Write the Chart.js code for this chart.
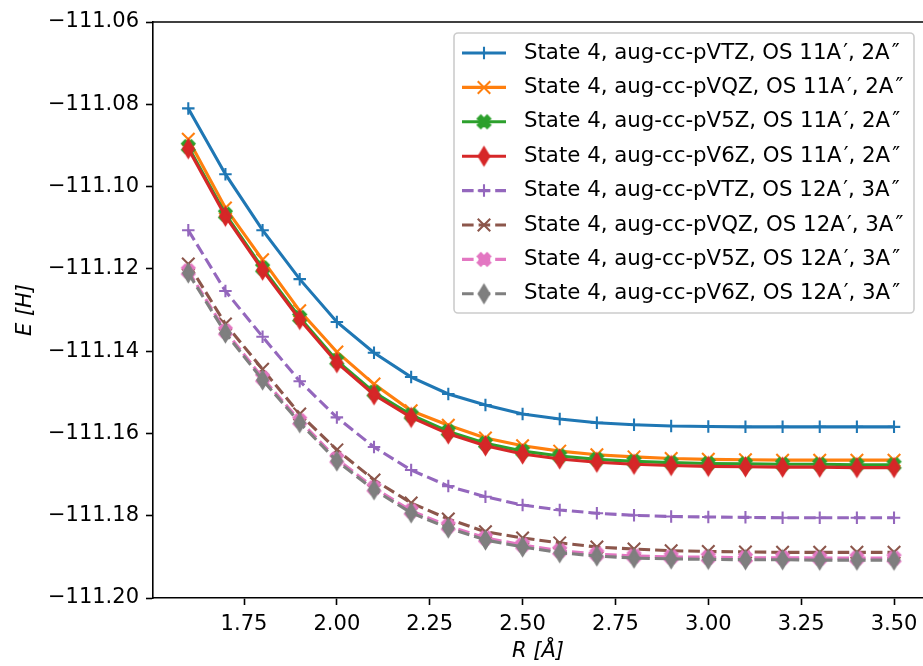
<!DOCTYPE html>
<html>
<head>
<meta charset="utf-8">
<script src="https://cdn.jsdelivr.net/npm/chart.js@4/dist/chart.umd.min.js"></script>
<style>
  html, body { margin: 0; padding: 0; background: #fff; }
  canvas { display: block; }
</style>
</head>
<body>
<canvas id="chart" width="923" height="666"></canvas>
<script>
'use strict'

/* global Chart */

const rValues = [1.6, 1.7, 1.8, 1.9, 2.0, 2.1, 2.2, 2.3, 2.4, 2.5, 2.6, 2.7, 2.8, 2.9, 3.0, 3.1, 3.2, 3.3, 3.4, 3.5]

const vtz11 = [-111.0810, -111.0970, -111.1106, -111.1225, -111.1329, -111.1404, -111.1463, -111.1504, -111.1531, -111.1553,
  -111.1565, -111.1574, -111.1579, -111.1582, -111.1583, -111.1584, -111.1584, -111.1584, -111.1584, -111.1584]
const vqz11 = [-111.0885, -111.1052, -111.1178, -111.1302, -111.1402, -111.1480, -111.1545, -111.1580, -111.1611, -111.1630,
  -111.1643, -111.1652, -111.1657, -111.1661, -111.1663, -111.1664, -111.1665, -111.1665, -111.1665, -111.1665]
const v5z11 = [-111.0903, -111.1067, -111.1198, -111.1318, -111.1423, -111.1500, -111.1555, -111.1595, -111.1624, -111.1643,
  -111.1655, -111.1663, -111.1668, -111.1671, -111.1673, -111.1674, -111.1675, -111.1675, -111.1676, -111.1676]
const v6z11 = [-111.0908, -111.1072, -111.1203, -111.1323, -111.1428, -111.1506, -111.1561, -111.1601, -111.1630, -111.1650,
  -111.1662, -111.1670, -111.1675, -111.1678, -111.1680, -111.1681, -111.1682, -111.1682, -111.1683, -111.1683]
const vtz12 = [-111.1106, -111.1254, -111.1365, -111.1473, -111.1561, -111.1633, -111.1689, -111.1728, -111.1754, -111.1774,
  -111.1786, -111.1794, -111.1799, -111.1802, -111.1803, -111.1804, -111.1805, -111.1805, -111.1805, -111.1805]
const vqz12 = [-111.1188, -111.1334, -111.1444, -111.1553, -111.1640, -111.1713, -111.1769, -111.1808, -111.1839, -111.1854,
  -111.1866, -111.1876, -111.1881, -111.1885, -111.1887, -111.1888, -111.1889, -111.1889, -111.1889, -111.1889]
const v5z12 = [-111.1205, -111.1351, -111.1465, -111.1569, -111.1662, -111.1732, -111.1788, -111.1825, -111.1854, -111.1871,
  -111.1885, -111.1893, -111.1898, -111.1900, -111.1901, -111.1902, -111.1902, -111.1903, -111.1903, -111.1903]
const v6z12 = [-111.1210, -111.1356, -111.1470, -111.1574, -111.1667, -111.1737, -111.1793, -111.1830, -111.1859, -111.1876,
  -111.1890, -111.1898, -111.1903, -111.1905, -111.1906, -111.1907, -111.1907, -111.1908, -111.1908, -111.1908]

const seriesLabels = [
  'State 4, aug-cc-pVTZ, OS 11A\u200a\u2032, 2A\u200a\u2033',
  'State 4, aug-cc-pVQZ, OS 11A\u200a\u2032, 2A\u200a\u2033',
  'State 4, aug-cc-pV5Z, OS 11A\u200a\u2032, 2A\u200a\u2033',
  'State 4, aug-cc-pV6Z, OS 11A\u200a\u2032, 2A\u200a\u2033',
  'State 4, aug-cc-pVTZ, OS 12A\u200a\u2032, 3A\u200a\u2033',
  'State 4, aug-cc-pVQZ, OS 12A\u200a\u2032, 3A\u200a\u2033',
  'State 4, aug-cc-pV5Z, OS 12A\u200a\u2032, 3A\u200a\u2033',
  'State 4, aug-cc-pV6Z, OS 12A\u200a\u2032, 3A\u200a\u2033'
]

const xTicks = [1.75, 2.00, 2.25, 2.50, 2.75, 3.00, 3.25, 3.50]
const yTicks = [-111.20, -111.18, -111.16, -111.14, -111.12, -111.10, -111.08, -111.06]

const FONT = 'DejaVu Sans'
const MS = 12.5
const EDGE = 2.08

function filledX (color) {
  const size = Math.ceil(MS + EDGE + 2)
  const c = document.createElement('canvas')
  c.width = size
  c.height = size
  const ctx = c.getContext('2d')
  const pts = [[-1, -2], [0, -1], [1, -2], [2, -1], [1, 0], [2, 1], [1, 2], [0, 1], [-1, 2], [-2, 1], [-1, 0], [-2, -1]]
  ctx.translate(size / 2, size / 2)
  ctx.beginPath()
  pts.forEach((p, i) => {
    const x = p[0] / 4 * MS
    const y = p[1] / 4 * MS
    if (i === 0) ctx.moveTo(x, y)
    else ctx.lineTo(x, y)
  })
  ctx.closePath()
  ctx.fillStyle = color
  ctx.strokeStyle = color
  ctx.lineWidth = EDGE
  ctx.fill()
  ctx.stroke()
  return c
}

function thinDiamond (color) {
  const h = MS * Math.SQRT2
  const w = h * 0.6
  const cw = Math.ceil(w + EDGE + 4)
  const ch = Math.ceil(h + EDGE + 4)
  const c = document.createElement('canvas')
  c.width = cw
  c.height = ch
  const ctx = c.getContext('2d')
  ctx.translate(cw / 2, ch / 2)
  ctx.beginPath()
  ctx.moveTo(0, -h / 2)
  ctx.lineTo(w / 2, 0)
  ctx.lineTo(0, h / 2)
  ctx.lineTo(-w / 2, 0)
  ctx.closePath()
  ctx.fillStyle = color
  ctx.strokeStyle = color
  ctx.lineWidth = EDGE
  ctx.fill()
  ctx.stroke()
  return c
}

const colors = ['#1f77b4', '#ff7f0e', '#2ca02c', '#d62728', '#9467bd', '#8c564b', '#e377c2', '#7f7f7f']
const values = [vtz11, vqz11, v5z11, v6z11, vtz12, vqz12, v5z12, v6z12]
const markers = [
  { style: 'cross', radius: MS / 2 },
  { style: 'crossRot', radius: MS / 2 * Math.SQRT2 },
  { style: filledX(colors[2]), radius: 6 },
  { style: thinDiamond(colors[3]), radius: 6 },
  { style: 'cross', radius: MS / 2 },
  { style: 'crossRot', radius: MS / 2 * Math.SQRT2 },
  { style: filledX(colors[6]), radius: 6 },
  { style: thinDiamond(colors[7]), radius: 6 }
]
const dashed = [11.6, 5]

const datasets = values.map((vals, i) => ({
  label: seriesLabels[i],
  data: rValues.map((r, j) => ({ x: r, y: vals[j] })),
  borderColor: colors[i],
  backgroundColor: colors[i],
  borderWidth: 3.1,
  borderDash: i >= 4 ? dashed : [],
  pointStyle: markers[i].style,
  pointRadius: markers[i].radius,
  pointBorderWidth: EDGE,
  pointBorderColor: colors[i],
  pointBackgroundColor: colors[i],
  tension: 0,
  fill: false,
  order: 7 - i
}))

function drawMarker (ctx, m, color, x, y) {
  ctx.save()
  if (typeof m.style === 'string') {
    ctx.strokeStyle = color
    ctx.lineWidth = EDGE
    ctx.setLineDash([])
    ctx.beginPath()
    if (m.style === 'cross') {
      ctx.moveTo(x - m.radius, y)
      ctx.lineTo(x + m.radius, y)
      ctx.moveTo(x, y - m.radius)
      ctx.lineTo(x, y + m.radius)
    } else {
      const d = m.radius / Math.SQRT2
      ctx.moveTo(x - d, y - d)
      ctx.lineTo(x + d, y + d)
      ctx.moveTo(x - d, y + d)
      ctx.lineTo(x + d, y - d)
    }
    ctx.stroke()
  } else {
    ctx.drawImage(m.style, x - m.style.width / 2, y - m.style.height / 2)
  }
  ctx.restore()
}

const framePlugin = {
  id: 'frame',
  afterDatasetsDraw (chart) {
    const ctx = chart.ctx
    const area = chart.chartArea
    ctx.save()
    ctx.strokeStyle = '#000'
    ctx.lineWidth = 1.6
    ctx.beginPath()
    ctx.moveTo(area.left, area.top)
    ctx.lineTo(area.right, area.top)
    ctx.stroke()

    // legend box, upper right
    ctx.beginPath()
    ctx.roundRect(454, 33, 460, 280, 4)
    ctx.fillStyle = 'rgba(255,255,255,0.8)'
    ctx.fill()
    ctx.strokeStyle = '#cccccc'
    ctx.lineWidth = 1.6
    ctx.stroke()

    ctx.font = '21.3px "' + FONT + '"'
    ctx.textBaseline = 'middle'
    ctx.textAlign = 'left'
    datasets.forEach((ds, i) => {
      const y = 53 + i * 34.4
      ctx.save()
      ctx.strokeStyle = ds.borderColor
      ctx.lineWidth = 3.1
      ctx.setLineDash(ds.borderDash)
      ctx.beginPath()
      ctx.moveTo(462, y)
      ctx.lineTo(506, y)
      ctx.stroke()
      ctx.restore()
      drawMarker(ctx, markers[i], ds.borderColor, 484, y)
      ctx.fillStyle = '#000'
      ctx.fillText(ds.label, 524, y)
    })
    ctx.restore()
  }
}

Chart.defaults.font.family = FONT
Chart.defaults.color = '#000'

const chart = new Chart(document.getElementById('chart'), {
  type: 'line',
  data: { datasets },
  plugins: [framePlugin],
  options: {
    responsive: false,
    animation: false,
    devicePixelRatio: 1,
    layout: { autoPadding: false, padding: { top: 22, right: 0, bottom: 0, left: 0 } },
    plugins: {
      legend: { display: false },
      tooltip: { enabled: false }
    },
    scales: {
      x: {
        type: 'linear',
        min: 1.505,
        max: 3.578,
        afterBuildTicks: (scale) => { scale.ticks = xTicks.map(v => ({ value: v })) },
        afterFit: (scale) => {
          scale.height = 68
          scale.paddingLeft = 0
          scale.paddingRight = 0
        },
        ticks: {
          callback: (v) => v.toFixed(2),
          font: { size: 21 },
          color: '#000',
          padding: 7,
          maxRotation: 0,
          autoSkip: false
        },
        grid: { drawOnChartArea: false, drawTicks: true, tickLength: 7, tickColor: '#000', tickWidth: 1.6 },
        border: { display: true, color: '#000', width: 1.6 },
        title: {
          display: true,
          text: 'R [\u00c5]',
          color: '#000',
          font: { size: 21, style: 'italic' },
          padding: { top: 0, bottom: 2 }
        }
      },
      y: {
        type: 'linear',
        min: -111.20,
        max: -111.06,
        afterBuildTicks: (scale) => { scale.ticks = yTicks.map(v => ({ value: v })) },
        afterFit: (scale) => { scale.width = 153 },
        ticks: {
          callback: (v) => '\u2212' + Math.abs(v).toFixed(2),
          font: { size: 21 },
          color: '#000',
          padding: 7,
          autoSkip: false
        },
        grid: { drawOnChartArea: false, drawTicks: true, tickLength: 7, tickColor: '#000', tickWidth: 1.6 },
        border: { display: true, color: '#000', width: 1.6 },
        title: {
          display: true,
          text: 'E [H]',
          color: '#000',
          font: { size: 21, style: 'italic' },
          padding: { top: 13, bottom: 0 }
        }
      }
    }
  }
})
</script>
</body>
</html>
